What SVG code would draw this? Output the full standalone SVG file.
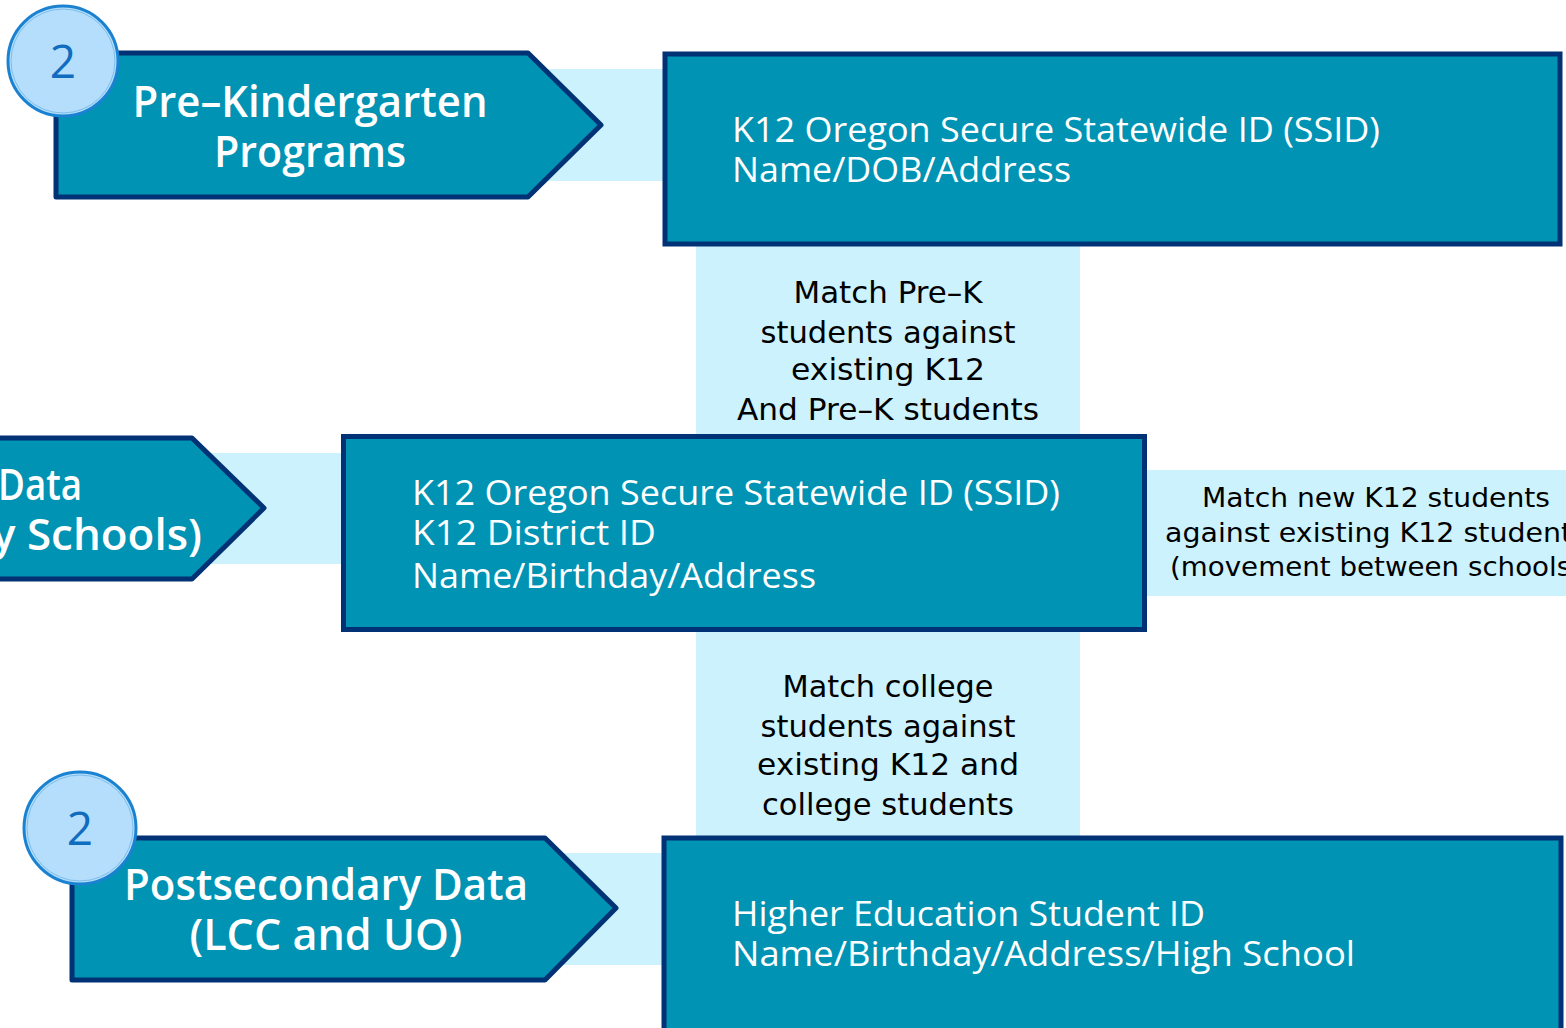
<svg xmlns="http://www.w3.org/2000/svg" width="1566" height="1028" viewBox="0 0 1566 1028">
<style>
.band{fill:#CCF2FD}
.chev{fill:#0093B3;stroke:#003275;stroke-width:5;stroke-linejoin:round}
.box{fill:#0093B3;stroke:#003275;stroke-width:5}
.ct{font-family:"Open Sans","Liberation Sans",sans-serif;font-size:44px;font-weight:600;fill:#fff}
.bt{font-family:"Open Sans","Liberation Sans",sans-serif;font-size:34px;fill:#fff}
.mt{font-family:"DejaVu Sans","Liberation Sans",sans-serif;font-size:30px;fill:#000}
.rt{font-family:"DejaVu Sans","Liberation Sans",sans-serif;font-size:27px;fill:#000}
.circ{fill:#B4DEFC;stroke:#1A82D0;stroke-width:3}
.circi{fill:none;stroke:#7DBDEB;stroke-width:1}
.num{font-family:"Open Sans","Liberation Sans",sans-serif;font-size:46px;fill:#0F6CBF}
</style>
<rect width="1566" height="1028" fill="#fff"/>
<g id="connectors">
  <rect class="band" x="540" y="69" width="125" height="112"/>
  <rect class="band" x="696" y="244" width="384" height="194"/>
  <rect class="band" x="210" y="453" width="135" height="111"/>
  <rect class="band" x="1145" y="470" width="421" height="126"/>
  <rect class="band" x="696" y="630" width="384" height="208"/>
  <rect class="band" x="560" y="853" width="105" height="112"/>
  <g id="label-prek-match" text-anchor="middle">
    <text class="mt" x="888" y="303" textLength="189" lengthAdjust="spacingAndGlyphs">Match Pre–K</text>
    <text class="mt" x="888" y="343" textLength="255" lengthAdjust="spacingAndGlyphs">students against</text>
    <text class="mt" x="888" y="380" textLength="194" lengthAdjust="spacingAndGlyphs">existing K12</text>
    <text class="mt" x="888" y="420" textLength="302" lengthAdjust="spacingAndGlyphs">And Pre–K students</text>
  </g>
  <g id="label-k12-match">
    <text class="rt" x="1376" y="507" text-anchor="middle" textLength="348" lengthAdjust="spacingAndGlyphs">Match new K12 students</text>
    <text class="rt" x="1165" y="542" textLength="422" lengthAdjust="spacingAndGlyphs">against existing K12 students</text>
    <text class="rt" x="1170" y="576" textLength="412" lengthAdjust="spacingAndGlyphs">(movement between schools)</text>
  </g>
  <g id="label-college-match" text-anchor="middle">
    <text class="mt" x="888" y="697" textLength="211" lengthAdjust="spacingAndGlyphs">Match college</text>
    <text class="mt" x="888" y="737" textLength="255" lengthAdjust="spacingAndGlyphs">students against</text>
    <text class="mt" x="888" y="775" textLength="262" lengthAdjust="spacingAndGlyphs">existing K12 and</text>
    <text class="mt" x="888" y="815" textLength="252" lengthAdjust="spacingAndGlyphs">college students</text>
  </g>
</g>
<g id="node-prek">
  <path class="chev" d="M56,53 L528,53 L601,125 L528,197 L56,197 Z"/>
  <text class="ct" x="310" y="117" text-anchor="middle" textLength="355" lengthAdjust="spacingAndGlyphs">Pre–Kindergarten</text>
  <text class="ct" x="310" y="167" text-anchor="middle" textLength="192" lengthAdjust="spacingAndGlyphs">Programs</text>
</g>
<g id="badge-top">
  <circle class="circ" cx="63" cy="61" r="55"/>
  <circle class="circi" cx="63" cy="61" r="52"/>
  <text class="num" x="63" y="78" text-anchor="middle">2</text>
</g>
<g id="node-k12-data">
  <path class="chev" d="M-10,438 L192,438 L264,508 L192,579 L-10,579 Z"/>
  <text class="ct" x="-2" y="500" textLength="84" lengthAdjust="spacingAndGlyphs">Data</text>
  <text class="ct" x="-8" y="550" textLength="210" lengthAdjust="spacingAndGlyphs">y Schools)</text>
</g>
<g id="node-post">
  <path class="chev" d="M72,838 L545,838 L616,908 L545,980 L72,980 Z"/>
  <text class="ct" x="326" y="900" text-anchor="middle" textLength="404" lengthAdjust="spacingAndGlyphs">Postsecondary Data</text>
  <text class="ct" x="326" y="950" text-anchor="middle" textLength="273" lengthAdjust="spacingAndGlyphs">(LCC and UO)</text>
</g>
<g id="badge-bottom">
  <circle class="circ" cx="80" cy="828" r="56"/>
  <circle class="circi" cx="80" cy="828" r="53"/>
  <text class="num" x="80" y="845" text-anchor="middle">2</text>
</g>
<g id="box-prek">
  <rect class="box" x="665" y="54" width="895" height="190"/>
  <text class="bt" x="732" y="142" textLength="648" lengthAdjust="spacingAndGlyphs">K12 Oregon Secure Statewide ID (SSID)</text>
  <text class="bt" x="732" y="182" textLength="339" lengthAdjust="spacingAndGlyphs">Name/DOB/Address</text>
</g>
<g id="box-k12">
  <rect class="box" x="343.5" y="436.5" width="801" height="193"/>
  <text class="bt" x="412" y="505" textLength="648" lengthAdjust="spacingAndGlyphs">K12 Oregon Secure Statewide ID (SSID)</text>
  <text class="bt" x="412" y="545" textLength="244" lengthAdjust="spacingAndGlyphs">K12 District ID</text>
  <text class="bt" x="412" y="588" textLength="404" lengthAdjust="spacingAndGlyphs">Name/Birthday/Address</text>
</g>
<g id="box-higher-ed">
  <rect class="box" x="664" y="838" width="897" height="200"/>
  <text class="bt" x="732" y="926" textLength="473" lengthAdjust="spacingAndGlyphs">Higher Education Student ID</text>
  <text class="bt" x="732" y="966" textLength="623" lengthAdjust="spacingAndGlyphs">Name/Birthday/Address/High School</text>
</g>
</svg>
